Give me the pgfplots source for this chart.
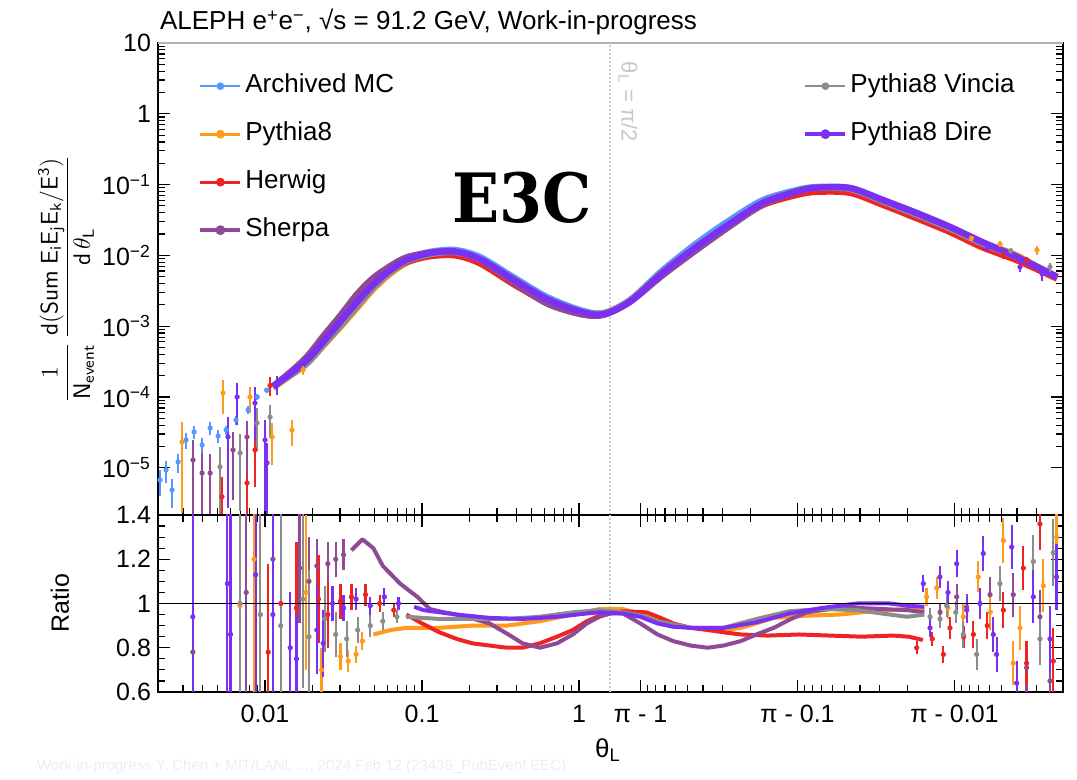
\documentclass[border=0pt]{standalone}
\usepackage{pgfplots}
\pgfplotsset{compat=1.18}
\usepackage{pgfplotstable}
\usepackage{fontspec}
\setmainfont{Liberation Sans}
\newfontfamily\eccfont{DejaVu Serif}[FakeStretch=0.91]

\definecolor{cArch}{HTML}{5599FF}
\definecolor{cPy}{HTML}{FF9A1A}
\definecolor{cHw}{HTML}{EE2424}
\definecolor{cSh}{HTML}{8E4A94}
\definecolor{cVi}{HTML}{8C8C8C}
\definecolor{cDi}{HTML}{7A2FF2}

% x = log10(theta) left of pi/2, mirrored log10(pi-theta) right of it
\pgfplotstableread{
u      arch    py8     hw      sh      vi      di
-1.949 1.41e-4 1.34e-4 1.41e-4 1.41e-4 1.41e-4 1.41e-4
-1.841 2.11e-4 2.00e-4 2.11e-4 2.22e-4 2.00e-4 2.11e-4
-1.732 3.33e-4 3.00e-4 3.50e-4 3.73e-4 3.00e-4 3.33e-4
-1.631 6.04e-4 5.25e-4 6.04e-4 7.13e-4 5.32e-4 5.92e-4
-1.522 1.15e-3 9.66e-4 1.15e-3 1.40e-3 1.00e-3 1.15e-3
-1.414 2.21e-3 1.81e-3 2.21e-3 2.83e-3 1.92e-3 2.19e-3
-1.312 3.85e-3 3.31e-3 3.73e-3 4.77e-3 3.47e-3 3.85e-3
-1.204 6.22e-3 5.47e-3 5.85e-3 7.03e-3 5.78e-3 6.16e-3
-1.096 8.89e-3 7.91e-3 8.09e-3 9.42e-3 8.36e-3 8.67e-3
-0.949 1.12e-2 9.97e-3 9.74e-3 1.09e-2 1.04e-2 1.08e-2
-0.790 1.19e-2 1.06e-2 1.00e-2 1.13e-2 1.11e-2 1.13e-2
-0.631 9.48e-3 8.53e-3 7.73e-3 8.72e-3 8.82e-3 8.86e-3
-0.420 4.95e-3 4.46e-3 3.96e-3 4.21e-3 4.60e-3 4.60e-3
-0.204 2.58e-3 2.37e-3 2.14e-3 2.09e-3 2.43e-3 2.41e-3
0.006  1.69e-3 1.61e-3 1.50e-3 1.49e-3 1.62e-3 1.61e-3
0.153  1.53e-3 1.50e-3 1.45e-3 1.44e-3 1.48e-3 1.47e-3
0.325  2.34e-3 2.27e-3 2.27e-3 2.21e-3 2.25e-3 2.22e-3
0.535  6.22e-3 5.69e-3 5.78e-3 5.29e-3 5.72e-3 5.69e-3
0.752  1.50e-2 1.34e-2 1.34e-2 1.21e-2 1.34e-2 1.34e-2
0.962  3.16e-2 2.78e-2 2.73e-2 2.59e-2 2.81e-2 2.81e-2
1.172  6.05e-2 5.57e-2 5.17e-2 5.26e-2 5.60e-2 5.54e-2
1.389  8.39e-2 7.93e-2 7.17e-2 7.97e-2 8.10e-2 8.01e-2
1.516  9.25e-2 8.74e-2 7.91e-2 9.02e-2 9.02e-2 9.02e-2
1.726  8.95e-2 8.55e-2 7.65e-2 8.77e-2 8.68e-2 8.95e-2
1.936  6.05e-2 5.87e-2 5.17e-2 5.90e-2 5.78e-2 6.05e-2
2.153  3.97e-2 3.89e-2 3.33e-2 3.85e-2 3.73e-2 3.93e-2
2.363  2.52e-2 2.52e-2 2.14e-2 2.44e-2 2.39e-2 2.52e-2
2.573  1.50e-2 1.50e-2 1.29e-2 1.47e-2 1.46e-2 1.53e-2
2.790  9.48e-3 9.95e-3 8.53e-3 9.48e-3 9.48e-3 9.48e-3
3.045  4.95e-3 4.70e-3 4.70e-3 4.95e-3 4.95e-3 4.95e-3
}\topmain

\pgfplotsset{
  xsym/.style={
    xmin=-2.682, xmax=3.083,
    xtick={-2,-1,0,0.392,1.392,2.392},
    minor xtick={-2.523,-2.398,-2.301,-2.222,-2.155,-2.097,-2.046,
      -1.699,-1.523,-1.398,-1.301,-1.222,-1.155,-1.097,-1.046,
      -0.699,-0.523,-0.398,-0.301,-0.222,-0.155,-0.097,-0.046,
      0.438,0.489,0.547,0.614,0.693,0.790,0.915,1.091,
      1.438,1.489,1.547,1.614,1.693,1.790,1.915,2.091,
      2.438,2.489,2.547,2.614,2.693,2.790,2.915},
    scale only axis, width=452.5pt, anchor=north west,
    tick align=inside, ytick pos=both,
    major tick length=6pt, minor tick length=3.5pt,
    tick style={black, line width=0.6pt},
    axis line style={line width=0.8pt},
    /pgf/number format/assume math mode=true,
    tick label style={font=\fontsize{12.5}{14}\selectfont},
  },
  band/.style={line width=3.2pt, no markers, forget plot, line join=round, smooth, tension=0.5},
  rline/.style={line width=2pt, no markers, forget plot, line join=round},
  scat/.style={only marks, mark=*, mark size=1.1pt, forget plot,
    error bars/y dir=both, error bars/y explicit, error bars/error mark=none,
    error bars/error bar style={line width=1.1pt}},
  scatrel/.style={only marks, mark=*, mark size=1.1pt, forget plot,
    error bars/y dir=both, error bars/y explicit relative, error bars/error mark=none,
    error bars/error bar style={line width=1.1pt}},
  mylegend/.style={
    legend style={draw=none, fill=none, inner sep=0pt, row sep=10.5pt, column sep=0.5pt,
      font=\fontsize{13}{15}\selectfont,
      nodes={text height=9pt, text depth=2.5pt, inner sep=1pt}},
    legend cell align=left,
    legend image code/.code={\draw[##1] (0pt,0pt) -- (20pt,0pt); \fill[##1] (10pt,0pt) circle (1.4pt);},
  },
}

\begin{document}
\begin{tikzpicture}
\path (0,0) rectangle (538.5pt,-388.5pt);

% ---------------- upper panel ----------------
\begin{axis}[xsym, at={(79pt,-21.5pt)}, height=236pt,
  ymode=log, ymin=2.15e-6, ymax=10,
  ytick={1e-5,1e-4,1e-3,1e-2,1e-1,1,10},
  yticklabels={10\textsuperscript{−5},10\textsuperscript{−4},10\textsuperscript{−3},10\textsuperscript{−2},10\textsuperscript{−1},1,10},
  xticklabels={}, xtick pos=left,
  mylegend, legend style={at={(0.0442,0.938)}, anchor=north west},
]
\addplot[black!20, line width=1pt, densely dotted, forget plot] coordinates {(0.196,2.15e-6) (0.196,10)};

\addplot[band, cArch] table[x=u, y=arch] {\topmain};
\addplot[band, cPy]   table[x=u, y=py8]  {\topmain};
\addplot[band, cHw]   table[x=u, y=hw]   {\topmain};
\addplot[band, cSh]   table[x=u, y=sh]   {\topmain};
\addplot[band, cVi]   table[x=u, y=vi]   {\topmain};
\addplot[band, cDi]   table[x=u, y=di]   {\topmain};

% low-statistics tails
\addplot[scatrel, cArch] table[x=u, y=v, y error=e] {
u v e
-2.669 6.7e-6 0.4
-2.631 9.3e-6 0.35
-2.592 4.85e-6 0.45
-2.554 1.21e-5 0.3
-2.503 2.47e-5 0.25
-2.452 3.2e-5 0.2
-2.401 2.1e-5 0.25
-2.350 3.65e-5 0.2
-2.299 2.81e-5 0.2
-2.248 3.42e-5 0.15
-2.185 4.73e-5 0.15
-2.108 6.55e-5 0.12
-2.050 1.0e-4 0.1
-1.990 1.25e-4 0.08
};
\addplot[scatrel, cPy] table[x=u, y=v, y error=e] {
u v e
-2.529 2.31e-5 0.9
-2.268 1.14e-4 0.5
-2.096 1.0e-4 0.4
-1.955 2.72e-5 0.6
-1.828 3.4e-5 0.4
-1.758 2.4e-4 0.15
2.500 1.75e-2 0.08
2.682 1.45e-2 0.1
2.917 1.19e-2 0.15
};
\addplot[scatrel, cHw] table[x=u, y=v, y error=e] {
u v e
-2.274 3.9e-6 0.9
-2.115 6.1e-6 0.85
-2.064 1.78e-5 0.7
-1.968 1.45e-4 0.3
2.700 1.0e-2 0.1
2.854 8.5e-3 0.12
};
\addplot[scatrel, cSh] table[x=u, y=v, y error=e] {
u v e
-2.459 1.29e-5 0.9
-2.401 8.4e-6 0.9
-2.350 8.4e-6 0.85
-2.204 1.78e-5 0.8
-2.115 2.72e-5 0.7
};
\addplot[scatrel, cVi] table[x=u, y=v, y error=e] {
u v e
-2.287 1.03e-5 0.9
-2.159 1.62e-5 0.85
-2.051 4.3e-5 0.6
-1.968 5.2e-5 0.5
2.750 1.15e-2 0.1
3.000 6.86e-3 0.15
};
\addplot[scatrel, cDi] table[x=u, y=v, y error=e] {
u v e
-2.236 2.72e-5 0.9
-2.178 1.0e-4 0.6
-2.064 8.2e-5 0.7
-2.000 2.47e-5 0.9
-1.987 1.17e-5 0.9
-1.924 1.5e-4 0.3
2.600 1.25e-2 0.1
2.809 6.86e-3 0.15
2.950 5.5e-3 0.2
};

\addlegendimage{cArch, line width=1pt}\addlegendentry{Archived MC}
\addlegendimage{cPy, line width=1.5pt}\addlegendentry{Pythia8}
\addlegendimage{cHw, line width=1.5pt}\addlegendentry{Herwig}
\addlegendimage{cSh, line width=2pt}\addlegendentry{Sherpa}
\draw[gray!60, line width=1pt] (rel axis cs:0,1) -- (rel axis cs:1,1);
\end{axis}

% second legend column
\begin{axis}[at={(79pt,-21.5pt)}, anchor=north west, scale only axis,
  width=452.5pt, height=236pt, hide axis, xmin=0, xmax=1, ymin=0, ymax=1,
  mylegend, legend style={at={(0.7127,0.938)}, anchor=north west}]
\addlegendimage{cVi, line width=1pt}\addlegendentry{Pythia8 Vincia}
\addlegendimage{cDi, line width=2pt}\addlegendentry{Pythia8 Dire}
\end{axis}

% ---------------- ratio panel ----------------
\begin{axis}[xsym, at={(79pt,-257.5pt)}, height=88.5pt,
  ymin=0.6, ymax=1.4,
  ytick={0.6,0.8,1,1.2,1.4}, yticklabels={0.6,0.8,1,1.2,1.4},
  minor y tick num=3,
  xticklabels={0.01,0.1,1,π - 1,π - 0.1,π - 0.01},
  xtick pos=both,
  xticklabel style={yshift=-3pt},
]
\addplot[black!20, line width=1pt, densely dotted, forget plot] coordinates {(0.196,0.6) (0.196,1.4)};

\addplot[rline, cPy] coordinates {(-1.31,0.86) (-1.2,0.88) (-1.10,0.89) (-0.89,0.89) (-0.68,0.90) (-0.46,0.90) (-0.25,0.92) (-0.04,0.95) (0.13,0.975) (0.28,0.975) (0.40,0.95) (0.50,0.92) (0.60,0.90) (0.71,0.89) (0.92,0.88) (1.03,0.89) (1.13,0.91) (1.24,0.935) (1.45,0.945) (1.66,0.95) (1.87,0.965) (2.09,0.975) (2.2,0.98)};
\addplot[rline, cHw] coordinates {(-1.10,0.95) (-1.0,0.91) (-0.89,0.87) (-0.78,0.84) (-0.68,0.82) (-0.57,0.81) (-0.46,0.80) (-0.36,0.80) (-0.25,0.82) (-0.14,0.85) (-0.04,0.88) (0.05,0.92) (0.13,0.945) (0.28,0.965) (0.43,0.96) (0.52,0.935) (0.60,0.91) (0.71,0.89) (0.82,0.88) (0.92,0.87) (1.03,0.86) (1.2,0.855) (1.4,0.86) (1.6,0.855) (1.8,0.85) (2.0,0.855) (2.1,0.85) (2.19,0.835)};
\addplot[rline, cSh] coordinates {(-1.45,1.24) (-1.38,1.29) (-1.31,1.25) (-1.25,1.17) (-1.14,1.09) (-1.03,1.03) (-0.95,0.975) (-0.86,0.96) (-0.78,0.95) (-0.67,0.93) (-0.57,0.91) (-0.45,0.86) (-0.36,0.82) (-0.25,0.80) (-0.14,0.82) (-0.04,0.86) (0.05,0.91) (0.13,0.94) (0.20,0.955) (0.28,0.955) (0.39,0.91) (0.50,0.86) (0.60,0.83) (0.71,0.81) (0.82,0.80) (0.92,0.81) (1.03,0.83) (1.13,0.86) (1.24,0.89) (1.35,0.93) (1.45,0.96) (1.60,0.975) (1.77,0.98) (1.93,0.975) (2.09,0.97) (2.2,0.96)};
\addplot[rline, cVi] coordinates {(-1.10,0.94) (-0.89,0.93) (-0.68,0.93) (-0.46,0.93) (-0.25,0.94) (-0.04,0.96) (0.13,0.97) (0.28,0.96) (0.40,0.945) (0.50,0.92) (0.71,0.89) (0.92,0.89) (1.13,0.93) (1.34,0.965) (1.55,0.975) (1.77,0.97) (1.98,0.95) (2.09,0.94) (2.2,0.95)};
\addplot[rline, cDi] coordinates {(-1.05,0.985) (-0.99,0.97) (-0.78,0.95) (-0.57,0.935) (-0.36,0.93) (-0.14,0.94) (0.05,0.955) (0.13,0.96) (0.28,0.955) (0.39,0.94) (0.50,0.91) (0.60,0.895) (0.71,0.89) (0.92,0.89) (1.13,0.915) (1.34,0.955) (1.55,0.98) (1.77,1.0) (1.98,1.0) (2.09,0.99) (2.2,0.985)};

\addplot[scat, cSh] table[x=u, y=r, y error=e] {
u r e
-2.46 0.78 0.9
-2.12 1.05 0.7
-1.95 1.20 0.5
-1.78 1.16 0.25
-1.72 1.10 0.2
-1.67 1.17 0.12
-1.60 1.18 0.1
-1.55 1.20 0.08
-1.50 1.22 0.07
2.300 0.96 0.04
2.406 1.03 0.06
2.469 0.985 0.06
2.618 1.04 0.08
2.766 1.04 0.1
2.851 0.71 0.12
2.936 0.94 0.12
3.000 0.65 0.15
};
\addplot[scat, cHw] table[x=u, y=r, y error=e] {
u r e
-1.98 0.78 0.4
-1.90 1.00 0.4
-1.80 0.98 0.3
-1.66 1.02 0.2
-1.60 0.95 0.15
-1.52 1.01 0.08
-1.45 1.03 0.06
-1.36 1.04 0.05
-1.27 1.00 0.04
-1.18 0.97 0.03
2.151 0.80 0.03
2.250 0.84 0.03
2.321 0.77 0.04
2.363 0.89 0.05
2.450 0.85 0.05
2.512 0.86 0.06
2.600 0.90 0.06
2.703 0.97 0.08
2.830 1.16 0.1
2.851 0.73 0.1
2.936 1.36 0.12
3.021 0.74 0.15
};
\addplot[scat, cPy] table[x=u, y=r, y error=e] {
u r e
-2.16 0.99 0.9
-2.07 1.20 0.9
-1.74 1.05 0.35
-1.64 0.70 0.1
-1.52 0.76 0.06
-1.47 0.74 0.05
-1.42 0.77 0.04
-1.38 0.83 0.04
2.214 1.03 0.04
2.278 1.07 0.05
2.350 0.98 0.05
2.448 0.94 0.06
2.543 1.12 0.07
2.620 0.96 0.08
2.703 1.285 0.1
2.766 0.73 0.1
2.809 0.89 0.1
2.958 1.08 0.12
3.042 1.30 0.15
};
\addplot[scat, cVi] table[x=u, y=r, y error=e] {
u r e
-2.16 1.00 0.9
-2.03 0.95 0.8
-1.90 0.90 0.6
-1.76 1.02 0.4
-1.72 0.85 0.3
-1.62 0.93 0.15
-1.55 0.86 0.1
-1.48 0.84 0.08
-1.41 0.88 0.06
-1.33 0.90 0.05
-1.25 0.92 0.04
-1.16 0.94 0.03
2.236 0.94 0.04
2.300 0.93 0.04
2.342 0.99 0.05
2.400 0.96 0.05
2.448 0.86 0.06
2.533 0.77 0.07
2.681 1.09 0.08
2.894 1.19 0.12
2.936 0.84 0.12
3.021 1.23 0.15
};
\addplot[scat, cDi] table[x=u, y=r, y error=e] {
u r e
-2.46 0.94 0.9
-2.24 1.09 0.9
-2.22 0.86 0.9
-2.06 1.13 0.9
-1.95 0.95 0.7
-1.84 0.80 0.25
-1.80 0.75 0.2
-1.67 0.88 0.2
-1.63 0.82 0.15
-1.57 1.00 0.08
-1.50 0.98 0.06
-1.42 1.02 0.05
-1.33 0.99 0.04
-1.24 1.03 0.04
-1.15 1.00 0.03
2.193 1.09 0.04
2.236 0.89 0.04
2.299 1.12 0.05
2.350 1.05 0.05
2.406 1.18 0.06
2.470 0.97 0.06
2.554 1.00 0.07
2.575 1.226 0.08
2.639 0.86 0.08
2.660 0.77 0.08
2.756 1.255 0.1
2.788 0.64 0.1
2.894 1.03 0.12
3.000 0.84 0.15
3.042 1.12 0.15
};
\addplot[black, line width=0.8pt, forget plot] coordinates {(-2.682,1) (3.083,1)};
\end{axis}

% texts
\node[anchor=base west, font=\fontsize{13}{15}\selectfont] at (76.5pt,-15pt)
  {ALEPH e\textsuperscript{+}e\textsuperscript{−}, √s = 91.2 GeV, Work-in-progress};
\node[rotate=90, font=\fontsize{12}{14}\selectfont] at (33pt,-139.5pt)
  {$\displaystyle\frac{1}{\mathsf{N_{event}}}\,\frac{\mathsf{d(Sum\ E_{i}E_{j}E_{k}/E^{3})}}{\mathsf{d}\,\theta_{\mathsf{L}}}$};
\node[rotate=90, font=\fontsize{12.5}{14}\selectfont] at (30pt,-301.5pt) {Ratio};
\node[font=\fontsize{13}{15}\selectfont] at (304pt,-375pt) {θ\textsubscript{L}};
\node[rotate=-90, text=black!22, font=\fontsize{11}{13}\selectfont] at (314pt,-51pt) {θ\textsubscript{L} = π/2};
\node[font=\eccfont\bfseries\fontsize{34}{40}\selectfont] at (261.25pt,-99pt) {E3C};
\node[anchor=base west, text=black!7, font=\fontsize{7.5}{9}\selectfont] at (15pt,-385pt)
  {Work-in-progress Y. Chen + MIT/LANL ..., 2024 Feb 12 (23436\_PubEvent EEC)};
\end{tikzpicture}
\end{document}
